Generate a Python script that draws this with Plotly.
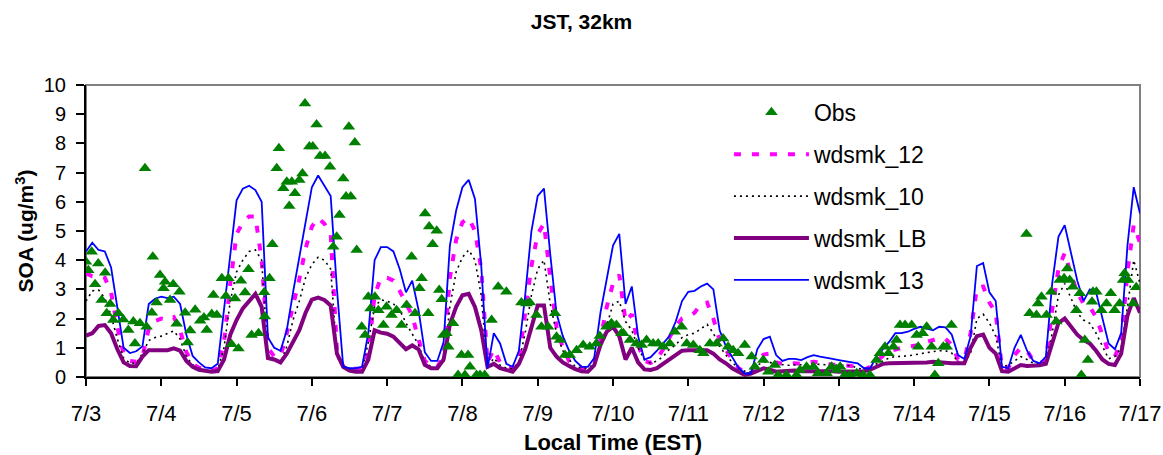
import pandas as pd
import plotly.graph_objects as go

# Model output every 2 hours, starting 7/3 00:00 (169 values each)
wdsmk_13 = [
    4.3, 4.6, 4.35, 4.3, 3.75, 2.3, 1.0, 0.82, 0.88, 1.05, 2.5, 2.68,
    2.75, 2.7, 2.75, 2.5, 1.45, 0.72, 0.5, 0.33, 0.3, 0.45, 2.3, 4.3,
    6.05, 6.45, 6.55, 6.4, 6.0, 1.35, 1.0, 0.9, 1.6, 2.9, 4.1, 5.4,
    6.5, 6.9, 6.55, 6.2, 3.0, 0.35, 0.3, 0.3, 0.35, 1.5, 4.0, 4.45,
    4.45, 4.3, 3.7, 2.9, 3.3, 2.3, 0.85, 0.55, 0.55, 1.2, 4.5, 5.7,
    6.5, 6.75, 6.1, 3.8, 0.3, 1.5, 1.15, 0.45, 0.35, 0.9, 2.8, 5.0,
    6.2, 6.45, 4.2, 2.18, 1.4, 0.9, 0.55, 0.35, 0.35, 0.65, 2.2, 3.4,
    4.5, 4.9, 2.5, 3.1, 1.4, 0.6, 0.68, 0.9, 1.15, 1.4, 1.9, 2.6,
    2.92, 2.95, 3.1, 3.2, 3.0, 1.6, 1.05, 0.7, 0.32, 0.12, 0.12, 0.95,
    1.3, 1.38, 0.75, 0.55, 0.62, 0.62, 0.58, 0.68, 0.75, 0.7, 0.67, 0.62,
    0.58, 0.55, 0.5, 0.47, 0.3, 0.3, 0.7, 0.95, 1.2, 1.5, 1.5, 1.55,
    1.65, 1.72, 1.65, 1.6, 1.72, 1.7, 1.45, 0.75, 0.62, 1.4, 3.8, 3.9,
    2.9, 2.6, 0.35, 0.3, 1.0, 1.44, 0.9, 0.55, 0.47, 0.7, 3.2, 4.8,
    5.2, 4.2, 3.3, 2.6, 3.0, 2.9, 2.0, 1.15, 0.95, 1.5, 4.5, 6.5,
    5.6,
]
wdsmk_12 = [
    3.55, 3.45, 3.45, 3.4, 2.9, 1.7, 0.8, 0.55, 0.52, 0.7, 1.65, 1.92,
    2.0, 1.95, 2.05, 1.6, 0.85, 0.45, 0.32, 0.25, 0.2, 0.3, 1.2, 3.2,
    4.9, 5.3, 5.5, 5.5, 4.0, 1.0, 0.7, 0.7, 1.5, 2.45, 3.35, 4.4,
    5.15, 5.45, 5.25, 4.9, 0.9, 0.35, 0.3, 0.28, 0.28, 0.8, 2.8, 3.4,
    3.4, 3.3, 2.95, 2.5, 2.1, 1.3, 0.55, 0.38, 0.35, 0.7, 3.4, 4.7,
    5.3, 5.45, 5.0, 3.7, 0.5, 0.95, 0.5, 0.35, 0.3, 0.6, 2.2, 3.8,
    4.9, 5.25, 3.4, 1.7, 1.0, 0.55, 0.38, 0.32, 0.3, 0.48, 1.3, 2.4,
    3.2, 3.5, 1.9, 2.15, 1.1, 0.55, 0.48, 0.62, 0.95, 1.38, 1.75, 2.0,
    2.07, 2.2, 2.5, 2.55, 2.0, 1.25, 0.9, 0.6, 0.3, 0.18, 0.18, 0.55,
    0.77, 0.8, 0.5, 0.45, 0.45, 0.47, 0.45, 0.5, 0.52, 0.5, 0.45, 0.42,
    0.42, 0.4, 0.38, 0.3, 0.25, 0.35, 0.55, 0.72, 0.88, 0.95, 1.0, 1.04,
    1.08, 1.1, 1.2, 1.27, 1.33, 1.3, 1.1, 0.6, 0.6, 1.5, 3.05, 3.1,
    2.55, 2.2, 0.3, 0.3, 0.75, 1.0, 0.9, 0.55, 0.48, 0.55, 2.3, 3.7,
    4.25, 3.5, 2.9, 2.5, 2.4, 2.05, 1.45, 0.85, 0.7, 1.2, 3.6, 5.2,
    4.6,
]
wdsmk_10 = [
    2.6, 2.95, 2.98, 2.7, 2.1, 1.3, 0.65, 0.47, 0.47, 0.8, 1.25, 1.35,
    1.4, 1.48, 1.58, 1.3, 0.7, 0.42, 0.3, 0.24, 0.2, 0.25, 1.0, 2.6,
    3.6, 4.0, 4.3, 4.35, 4.0, 0.75, 0.55, 0.5, 1.04, 1.95, 2.6, 3.4,
    3.85, 4.1, 4.0, 3.7, 0.7, 0.3, 0.2, 0.18, 0.2, 1.2, 2.4, 2.64,
    2.6, 2.5, 2.3, 1.85, 1.45, 1.1, 0.5, 0.35, 0.3, 0.5, 2.4, 3.6,
    4.1, 4.35, 4.0, 2.8, 0.3, 0.65, 0.4, 0.3, 0.28, 0.5, 1.5, 2.8,
    3.7, 4.0, 2.5, 1.5, 0.9, 0.6, 0.35, 0.3, 0.3, 0.45, 1.0, 1.72,
    2.5, 2.6, 1.9, 1.6, 1.0, 0.6, 0.47, 0.55, 0.7, 0.95, 1.1, 1.35,
    1.45, 1.5, 1.65, 1.8, 1.5, 1.05, 0.75, 0.5, 0.3, 0.2, 0.18, 0.4,
    0.52, 0.5, 0.45, 0.42, 0.4, 0.42, 0.42, 0.45, 0.45, 0.43, 0.42, 0.4,
    0.4, 0.4, 0.38, 0.3, 0.25, 0.35, 0.45, 0.55, 0.65, 0.7, 0.7, 0.72,
    0.76, 0.8, 0.85, 0.87, 0.9, 0.9, 0.82, 0.5, 0.5, 0.8, 2.0, 2.15,
    1.85, 1.4, 0.35, 0.4, 0.55, 0.7, 0.6, 0.47, 0.47, 0.5, 1.5, 2.8,
    3.2, 2.7, 2.2, 1.95, 1.84, 1.5, 1.05, 0.62, 0.7, 1.0, 2.4, 4.0,
    3.2,
]
wdsmk_LB = [
    1.42, 1.5, 1.75, 1.78, 1.5, 0.95, 0.5, 0.38, 0.37, 0.7, 0.92, 0.92,
    0.92, 0.92, 0.98, 0.9, 0.55, 0.35, 0.25, 0.2, 0.18, 0.2, 0.6, 1.45,
    1.95, 2.35, 2.6, 2.85, 2.4, 0.65, 0.6, 0.5, 0.8, 1.2, 1.6, 2.2,
    2.65, 2.72, 2.64, 2.45, 0.8, 0.35, 0.22, 0.18, 0.18, 0.6, 1.6, 1.52,
    1.48, 1.38, 1.15, 0.95, 1.08, 0.95, 0.42, 0.3, 0.3, 0.6, 1.8, 2.4,
    2.8, 2.85, 2.4, 1.6, 0.35, 0.45, 0.3, 0.25, 0.18, 0.45, 0.95, 1.7,
    2.45, 2.45, 1.0, 0.7, 0.5, 0.38, 0.27, 0.2, 0.18, 0.4, 1.1, 1.55,
    1.72, 1.4, 0.6, 1.0, 0.5, 0.26, 0.24, 0.3, 0.45, 0.58, 0.75, 0.9,
    0.92, 0.92, 0.92, 0.92, 0.8, 0.6, 0.47, 0.3, 0.18, 0.07, 0.12, 0.2,
    0.3, 0.25, 0.18, 0.2, 0.22, 0.22, 0.2, 0.2, 0.22, 0.22, 0.2, 0.2,
    0.18, 0.18, 0.18, 0.18, 0.2, 0.25, 0.35, 0.45, 0.47, 0.47, 0.47, 0.47,
    0.47, 0.48, 0.5, 0.52, 0.5, 0.47, 0.47, 0.47, 0.47, 1.0, 1.4, 1.45,
    1.0, 0.8, 0.2, 0.18, 0.3, 0.41, 0.38, 0.38, 0.4, 0.45, 1.1, 1.85,
    2.0, 1.7, 1.45, 1.27, 1.15, 0.9, 0.6, 0.45, 0.41, 0.8, 2.1, 2.7,
    2.2,
]

# Observations: hours since 7/3 00:00 and measured SOA
obs_hours = [
    0.0, 0.75, 1.8, 2.9, 3.9, 5.0, 6.1, 6.6, 7.7, 8.7, 10.3, 11.9,
    13.5, 15.1, 15.6, 17.2, 18.8, 19.3, 21.0, 21.3, 22.5, 23.6, 24.7, 25.2,
    26.8, 27.8, 28.9, 29.8, 31.6, 32.4, 33.2, 34.8, 36.4, 37.6, 38.5, 40.1,
    40.6, 41.7, 43.3, 44.6, 45.4, 46.4, 47.5, 48.6, 49.4, 50.7, 51.8, 52.8,
    55.0, 56.8, 57.0, 58.5, 59.4, 60.8, 61.5, 62.9, 64.0, 64.8, 65.6, 66.6,
    68.0, 69.0, 69.8, 71.2, 72.3, 73.5, 74.6, 76.2, 77.8, 78.8, 79.9, 80.8,
    82.0, 82.9, 83.8, 84.4, 85.7, 86.3, 87.9, 89.0, 90.0, 90.7, 92.1, 93.2,
    94.8, 95.8, 97.4, 99.0, 100.6, 102.2, 103.8, 104.9, 106.3, 107.0, 108.1, 109.1,
    109.4, 110.5, 111.8, 112.6, 113.4, 113.9, 114.9, 115.5, 117.0, 118.6, 119.7, 120.8,
    121.8, 122.4, 124.5, 125.6, 127.1, 129.3, 131.4, 134.0, 138.8, 140.4, 141.5, 143.6,
    145.2, 147.3, 149.5, 150.0, 151.1, 152.7, 154.2, 156.4, 158.5, 160.6, 162.7, 163.8,
    165.9, 167.5, 169.1, 170.7, 171.3, 173.4, 175.5, 177.1, 178.7, 180.8, 182.4, 184.0,
    186.1, 187.7, 189.9, 191.5, 193.6, 195.7, 196.8, 198.9, 201.0, 203.1, 204.7, 206.3,
    207.9, 210.0, 212.2, 213.2, 215.9, 217.5, 219.6, 220.7, 223.3, 226.5, 227.6, 229.7,
    231.9, 233.4, 236.1, 237.7, 239.3, 240.4, 241.9, 243.5, 245.7, 247.8, 249.9, 252.0,
    253.1, 254.7, 255.8, 257.4, 258.4, 259.5, 261.1, 263.2, 264.8, 265.3, 266.7, 268.0,
    269.6, 270.6, 271.7, 273.3, 274.4, 275.9, 299.8, 300.8, 303.0, 303.5, 304.6, 306.2,
    307.7, 309.3, 310.4, 311.8, 312.8, 313.6, 314.6, 315.7, 316.8, 317.3, 318.4, 319.4,
    320.7, 321.0, 322.1, 323.7, 325.3, 326.7, 327.9, 329.5, 330.6, 331.1, 332.2, 333.8,
    334.8,
]
obs_soa = [
    3.95, 3.66, 4.29, 3.18, 3.89, 2.64, 3.57, 2.18, 2.5, 1.95, 2.18, 1.97,
    1.61, 1.9, 1.15, 1.84, 7.15, 1.72, 2.2, 4.12, 2.55, 3.49, 3.04, 3.26,
    2.64, 3.18, 1.82, 2.92, 2.2, 1.18, 1.59, 2.3, 1.93, 2.04, 1.61, 2.16,
    2.81, 2.12, 3.38, 2.77, 3.38, 1.12, 2.69, 0.98, 3.3, 2.89, 3.69, 1.44,
    1.5, 2.9, 2.07, 3.38, 4.55, 7.15, 7.83, 6.46, 6.69, 5.86, 6.69, 6.29,
    6.75, 6.97, 9.37, 7.89, 7.89, 8.65, 7.57, 7.57, 7.2, 4.46, 4.8, 5.55,
    6.8, 6.18, 8.57, 6.18, 8.03, 4.35, 1.72, 1.44, 2.75, 2.35, 2.75, 2.29,
    1.78, 2.41, 2.12, 2.29, 1.78, 2.47, 4.12, 2.18, 3.04, 3.38, 5.6, 2.18,
    5.15, 4.55, 5.01, 2.98, 2.66, 1.44, 1.5, 1.04, 1.84, 0.07, 0.75, 0.07,
    0.75, 0.35, 0.07, 0.07, 0.07, 1.95, 3.09, 2.92, 2.55, 2.52, 2.55, 2.12,
    1.72, 1.72, 2.18, 1.38, 1.27, 0.75, 0.75, 0.92, 1.1, 1.04, 1.15, 1.4,
    1.72, 1.84, 1.78, 1.5, 1.5, 1.27, 1.15, 1.1, 1.27, 1.15, 1.15, 1.04,
    1.15, 1.55, 1.72, 1.15, 1.1, 0.92, 0.81, 1.15, 1.15, 1.32, 1.04, 0.92,
    0.81, 1.1, 0.7, 0.35, 0.58, 0.18, 0.41, 0.07, 0.07, 0.07, 0.24, 0.35,
    0.35, 0.13, 0.13, 0.35, 0.24, 0.35, 0.07, 0.07, 0.13, 0.07, 0.07, 0.58,
    0.81, 1.04, 0.81, 1.04, 1.27, 1.78, 1.78, 1.78, 1.44, 1.04, 1.5, 1.72,
    1.04, 0.07, 0.47, 1.04, 1.04, 1.78, 4.9, 2.18, 2.12, 2.52, 2.75, 2.12,
    2.92, 1.9, 3.32, 3.38, 3.72, 3.32, 3.09, 2.29, 2.87, 0.07, 1.27, 0.58,
    2.58, 2.92, 2.92, 2.29, 2.52, 2.87, 2.29, 2.52, 3.32, 3.55, 3.32, 2.52,
    3.07,
]

day_labels = ["7/3", "7/4", "7/5", "7/6", "7/7", "7/8", "7/9", "7/10",
              "7/11", "7/12", "7/13", "7/14", "7/15", "7/16", "7/17"]

start = pd.Timestamp("2004-07-03")
model_time = pd.date_range(start, periods=len(wdsmk_13), freq="2h")
obs_time = start + pd.to_timedelta(obs_hours, unit="h")
day_ticks = pd.date_range(start, periods=len(day_labels), freq="D")

fig = go.Figure()

model_styles = [
    ("wdsmk_12", wdsmk_12, dict(color="#FF00FF", width=4, dash="7px,11px"), 2),
    ("wdsmk_10", wdsmk_10, dict(color="#000000", width=1.6, dash="2px,4px"), 3),
    ("wdsmk_LB", wdsmk_LB, dict(color="#800080", width=4), 4),
    ("wdsmk_13", wdsmk_13, dict(color="#0000FF", width=1.8), 5),
]
for name, vals, line, rank in model_styles:
    fig.add_trace(go.Scatter(
        x=model_time, y=vals, mode="lines", name=name, line=line,
        legendgroup=name, legendrank=rank,
    ))

fig.add_trace(go.Scatter(
    x=obs_time, y=obs_soa, mode="markers", name="Obs",
    marker=dict(symbol="triangle-up", size=11, color="#008000"),
    legendgroup="Obs", legendrank=1,
))

font = "Arial, Liberation Sans, sans-serif"

fig.update_layout(
    width=1163, height=455,
    margin=dict(l=86, r=23, t=85, b=78),
    paper_bgcolor="white", plot_bgcolor="white",
    font=dict(family=font, color="black"),
    title=dict(text="<b>JST, 32km</b>", x=0.5, xref="container", xanchor="center",
               y=1 - 22 / 455, yref="container", yanchor="middle",
               font=dict(size=21, family=font, color="black")),
    showlegend=True,
    legend=dict(x=0.61, y=0.98, xanchor="left", yanchor="top",
                bgcolor="rgba(0,0,0,0)", borderwidth=0,
                font=dict(size=23, family=font, color="black"),
                itemwidth=75, tracegroupgap=9),
    shapes=[dict(type="rect", xref="paper", yref="paper", x0=0, y0=0, x1=1, y1=1,
                 line=dict(color="#808080", width=2), layer="below")],
)

fig.update_xaxes(
    range=[day_ticks[0], day_ticks[-1]],
    tickvals=day_ticks, ticktext=day_labels,
    ticks="outside", ticklen=7, tickwidth=1.5, tickcolor="black",
    showline=True, linecolor="black", linewidth=2,
    showgrid=False, zeroline=False, automargin=False,
    tickfont=dict(size=22, family=font, color="black"),
    ticklabelstandoff=9,
    title=dict(text="<b>Local Time (EST)</b>", standoff=16,
               font=dict(size=22, family=font, color="black")),
)
fig.update_yaxes(
    range=[0, 10], dtick=1,
    ticks="outside", ticklen=8, tickwidth=1.5, tickcolor="black",
    showline=True, linecolor="black", linewidth=2,
    showgrid=False, zeroline=False, automargin=False,
    tickfont=dict(size=20, family=font, color="black"),
    ticklabelstandoff=6,
    title=dict(text="<b>SOA (ug/m<sup>3</sup>)</b>", standoff=4,
               font=dict(size=21, family=font, color="black")),
)

fig.write_html("out.html")
